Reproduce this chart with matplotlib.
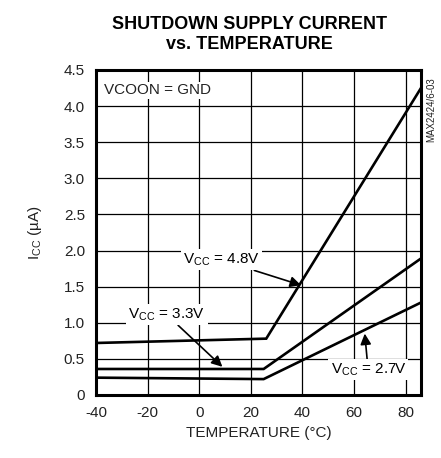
import matplotlib
matplotlib.use("Agg")
import matplotlib.pyplot as plt

# data (temperature in C, current in uA)
temp_48 = [-40, 26, 86]
icc_48 = [0.72, 0.78, 4.25]
temp_33 = [-40, 25, 86]
icc_33 = [0.36, 0.36, 1.89]
temp_27 = [-40, 25, 86]
icc_27 = [0.24, 0.22, 1.28]

xticks = [-40, -20, 0, 20, 40, 60, 80]
yticks = [0, 0.5, 1.0, 1.5, 2.0, 2.5, 3.0, 3.5, 4.0, 4.5]
ytick_labels = ["0", "0.5", "1.0", "1.5", "2.0", "2.5", "3.0", "3.5", "4.0", "4.5"]

plt.rcParams['font.family'] = ['Liberation Sans Narrow', 'Liberation Sans', 'DejaVu Sans']
plt.rcParams['axes.unicode_minus'] = False

fig = plt.figure(figsize=(4.41, 4.58), dpi=100)
ax = fig.add_axes([0.2177, 0.1376, 0.7369, 0.7096])

ax.plot(temp_48, icc_48, color='black', lw=1.9, solid_joinstyle='miter')
ax.plot(temp_33, icc_33, color='black', lw=1.9, solid_joinstyle='miter')
ax.plot(temp_27, icc_27, color='black', lw=1.9, solid_joinstyle='miter')

ax.set_xlim(-40, 86)
ax.set_ylim(0, 4.5)
ax.set_xticks(xticks)
ax.set_yticks(yticks)
ax.set_yticklabels(ytick_labels)
ax.tick_params(length=0, labelsize=11, pad=8, colors='#222222')
ax.grid(True, color='black', lw=0.9)
ax.set_axisbelow(True)
for s in ax.spines.values():
    s.set_linewidth(2.2)

ax.set_xlabel("TEMPERATURE (°C)", fontsize=11, color='#222222', labelpad=4)
ax.set_ylabel("I$_{\\mathregular{CC}}$ (µA)", fontsize=11, color='#222222', labelpad=14)

fig.text(0.565, 0.925, "SHUTDOWN SUPPLY CURRENT\nvs. TEMPERATURE", ha='center', va='center',
         fontsize=13, fontweight='bold', linespacing=1.25)

ax.text(-37, 4.22, "VCOON = GND", fontsize=11, va='center', ha='left', color='#222222',
        bbox=dict(facecolor='white', edgecolor='none', pad=1))
fig.text(0.978, 0.76, "MAX2424/6-03", rotation=90, fontsize=7, ha='center', va='center', color='#222222')

box = dict(facecolor='white', edgecolor='none', pad=1.5)
arrow = dict(arrowstyle='-|>', color='black', lw=1.2, mutation_scale=16, shrinkA=0, shrinkB=0)
ax.annotate("V$_{\\mathregular{CC}}$ = 4.8V", xy=(39.5, 1.52), xytext=(8.5, 1.87),
            fontsize=11, ha='center', va='center', bbox=box, arrowprops=arrow)
ax.annotate("V$_{\\mathregular{CC}}$ = 3.3V", xy=(9, 0.39), xytext=(-12.5, 1.11),
            fontsize=11, ha='center', va='center', bbox=box, arrowprops=arrow)
ax.annotate("V$_{\\mathregular{CC}}$ = 2.7V", xy=(64.2, 0.85), xytext=(65.5, 0.35),
            fontsize=11, ha='center', va='center', bbox=box, arrowprops=arrow)

fig.savefig("out.png", dpi=100)
